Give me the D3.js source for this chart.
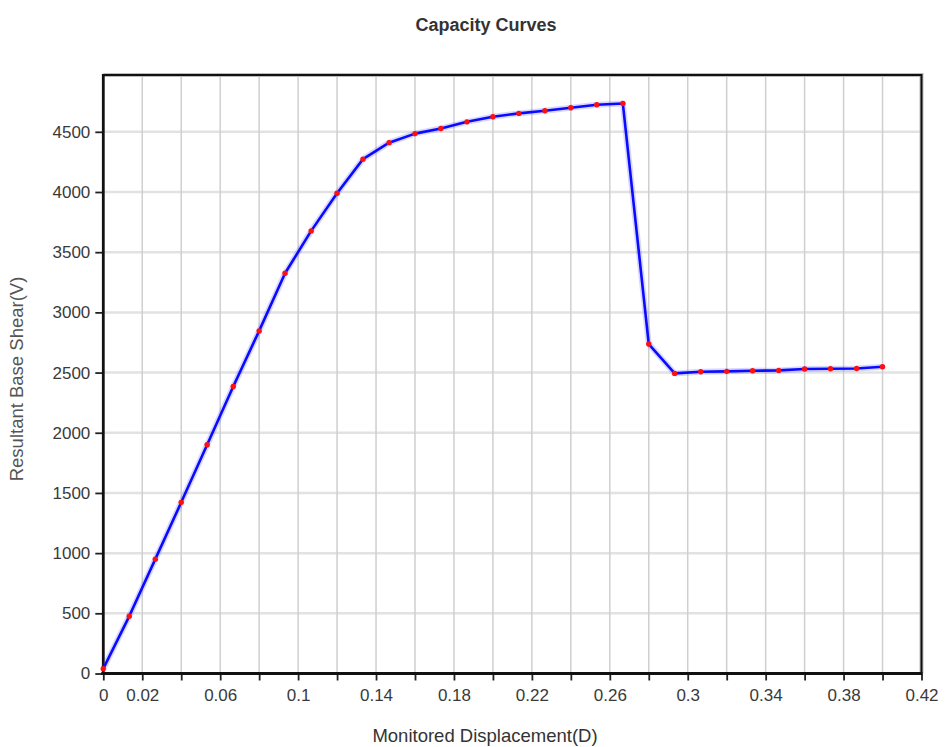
<!DOCTYPE html>
<html>
<head>
<meta charset="utf-8">
<script src="https://cdn.jsdelivr.net/npm/d3@7"></script>
<style>
  body { margin: 0; background: #fff; }
  svg text { font-family: "Liberation Sans", Arial, sans-serif; fill: #333; }
</style>
</head>
<body>
<script>
// capacity curve points
const displacement = [0, 0.0133, 0.0267, 0.04, 0.0533, 0.0667, 0.08, 0.0933, 0.1067, 0.12,
    0.1333, 0.1467, 0.16, 0.1733, 0.1867, 0.2, 0.2133, 0.2267, 0.24, 0.2533,
    0.2667, 0.28, 0.2933, 0.3067, 0.32, 0.3333, 0.3467, 0.36, 0.3733, 0.3867, 0.4];
const baseShear = [40, 475, 950, 1422, 1900, 2384, 2846, 3325, 3677, 3990,
    4273, 4410, 4485, 4528, 4583, 4625, 4653, 4675, 4700, 4725,
    4735, 2737, 2493, 2507, 2510, 2515, 2518, 2530, 2532, 2534, 2548];

const xTickLabels = [0, 0.02, 0.06, 0.1, 0.14, 0.18, 0.22, 0.26, 0.3, 0.34, 0.38, 0.42];
const xTicks = [0, 0.02, 0.04, 0.06, 0.08, 0.1, 0.12, 0.14, 0.16, 0.18, 0.2, 0.22, 0.24,
    0.26, 0.28, 0.3, 0.32, 0.34, 0.36, 0.38, 0.4, 0.42];
const yTicks = [0, 500, 1000, 1500, 2000, 2500, 3000, 3500, 4000, 4500];

const chartTitle = "Capacity Curves";
const xTitle = "Monitored Displacement(D)";
const yTitle = "Resultant Base Shear(V)";

const svgWidth = 945, svgHeight = 747;
const plotLeft = 103.3, plotRight = 921.5, plotTop = 75, plotBottom = 673.5;

const svg = d3.select("body")
    .append("svg")
    .attr("width", svgWidth)
    .attr("height", svgHeight);

const xScale = d3.scaleLinear().domain([0, 0.42]).range([plotLeft, plotRight]);
const yScale = d3.scaleLinear().domain([0, 4972]).range([plotBottom, plotTop]);

// grid
svg.append("g")
    .selectAll("line")
    .data(yTicks.slice(1))
    .enter()
    .append("line")
    .attr("x1", plotLeft).attr("x2", plotRight)
    .attr("y1", d => yScale(d)).attr("y2", d => yScale(d))
    .attr("stroke", "#e2e2e2")
    .attr("stroke-width", 2.5);

svg.append("g")
    .selectAll("line")
    .data(xTicks.slice(1, -1))
    .enter()
    .append("line")
    .attr("y1", plotTop).attr("y2", plotBottom)
    .attr("x1", d => xScale(d)).attr("x2", d => xScale(d))
    .attr("stroke", "#cfcfcf")
    .attr("stroke-width", 1.5);

// frame top/right
svg.append("path")
    .attr("d", `M${plotLeft},${plotTop}H${plotRight}V${plotBottom}`)
    .attr("fill", "none")
    .attr("stroke", "#bbb")
    .attr("stroke-width", 4);
svg.append("path")
    .attr("d", `M${plotLeft},${plotTop}H${plotRight}V${plotBottom}`)
    .attr("fill", "none")
    .attr("stroke", "#111")
    .attr("stroke-width", 2);

// axes
const xAxis = d3.axisBottom(xScale)
    .tickValues(xTicks)
    .tickSize(7)
    .tickPadding(8)
    .tickFormat(d => xTickLabels.some(v => Math.abs(v - d) < 1e-9) ? d3.format("~g")(d) : "");

const yAxis = d3.axisLeft(yScale)
    .tickValues(yTicks)
    .tickSize(8)
    .tickPadding(5)
    .tickFormat(d3.format("d"));

const gx = svg.append("g")
    .attr("transform", `translate(0,${plotBottom})`)
    .call(xAxis);
const gy = svg.append("g")
    .attr("transform", `translate(${plotLeft},0)`)
    .call(yAxis);

[gx, gy].forEach(g => {
    g.select(".domain").remove();
    g.selectAll(".tick line").attr("stroke", "#222").attr("stroke-width", 1.8);
    g.selectAll(".tick text").attr("font-size", 17).style("fill", "#3a3a3a");
});

svg.append("line")
    .attr("x1", plotLeft - 2).attr("x2", plotRight + 1)
    .attr("y1", plotBottom).attr("y2", plotBottom)
    .attr("stroke", "#111").attr("stroke-width", 2.8);
svg.append("line")
    .attr("x1", plotLeft).attr("x2", plotLeft)
    .attr("y1", plotTop - 1).attr("y2", plotBottom + 1)
    .attr("stroke", "#111").attr("stroke-width", 2.8);

// curve
const points = displacement.map((d, i) => [d, baseShear[i]]);
const line = d3.line()
    .x(d => xScale(d[0]))
    .y(d => yScale(d[1]));

svg.append("path")
    .datum(points)
    .attr("d", line)
    .attr("fill", "none")
    .attr("stroke", "rgba(60,60,255,0.2)")
    .attr("stroke-width", 6)
    .attr("stroke-linejoin", "round");

svg.append("path")
    .datum(points)
    .attr("d", line)
    .attr("fill", "none")
    .attr("stroke", "#0a0aff")
    .attr("stroke-width", 2.6)
    .attr("stroke-linejoin", "round");

svg.append("g")
    .selectAll("circle")
    .data(points)
    .enter()
    .append("circle")
    .attr("cx", d => xScale(d[0]))
    .attr("cy", d => yScale(d[1]))
    .attr("r", 2.7)
    .attr("fill", "#ff1010");

// titles
svg.append("text")
    .attr("x", 486).attr("y", 31)
    .attr("text-anchor", "middle")
    .attr("font-size", 18)
    .attr("font-weight", "bold")
    .text(chartTitle);

svg.append("text")
    .attr("x", 485).attr("y", 742)
    .attr("text-anchor", "middle")
    .attr("font-size", 18.5)
    .text(xTitle);

svg.append("text")
    .attr("transform", `translate(23,379) rotate(-90)`)
    .attr("text-anchor", "middle")
    .attr("font-size", 18.5)
    .style("fill", "#555")
    .text(yTitle);
</script>
</body>
</html>
